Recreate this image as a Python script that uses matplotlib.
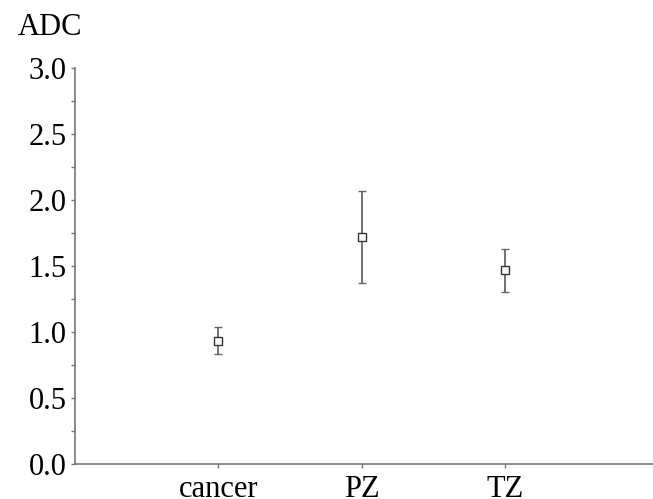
import matplotlib
matplotlib.use('Agg')
import matplotlib.pyplot as plt
from matplotlib.ticker import MultipleLocator, FormatStrFormatter

groups = ['cancer', 'PZ', 'TZ']
means = [0.93, 1.72, 1.47]
upper = [1.04, 2.07, 1.63]
lower = [0.83, 1.37, 1.30]

plt.rcParams['font.family'] = ['Liberation Serif', 'DejaVu Serif']

fig = plt.figure(figsize=(6.53, 4.99), dpi=100)
ax = fig.add_axes([0.115, 0.070, 0.885, 0.794])

xs = list(range(1, len(groups) + 1))
yerr = [[m - lo for m, lo in zip(means, lower)], [u - m for m, u in zip(means, upper)]]
ax.errorbar(xs, means, yerr=yerr, fmt='s', mfc='white', mec='#333333', ms=6, mew=1.0,
            ecolor='#666666', elinewidth=1.3, capsize=3, capthick=1.3)

ax.set_xlim(0, 4.03)
ax.set_ylim(0, 3.0)
ax.set_xticks(xs)
ax.set_xticklabels(groups)
ax.yaxis.set_major_locator(MultipleLocator(0.5))
ax.yaxis.set_minor_locator(MultipleLocator(0.25))
ax.yaxis.set_major_formatter(FormatStrFormatter('%.1f'))

for s in ['top', 'right']:
    ax.spines[s].set_visible(False)
for s in ['left', 'bottom']:
    ax.spines[s].set_color('#777777')
    ax.spines[s].set_linewidth(1.2)
ax.tick_params(axis='both', colors='#777777', labelcolor='black', labelsize=22, length=3, width=1)
ax.tick_params(axis='y', which='minor', colors='#777777', length=3, width=1)
ax.tick_params(axis='y', pad=3)
ax.tick_params(axis='x', pad=5)

fig.text(0.027, 0.93, 'ADC', fontsize=22)

fig.savefig('out.png', dpi=100)
